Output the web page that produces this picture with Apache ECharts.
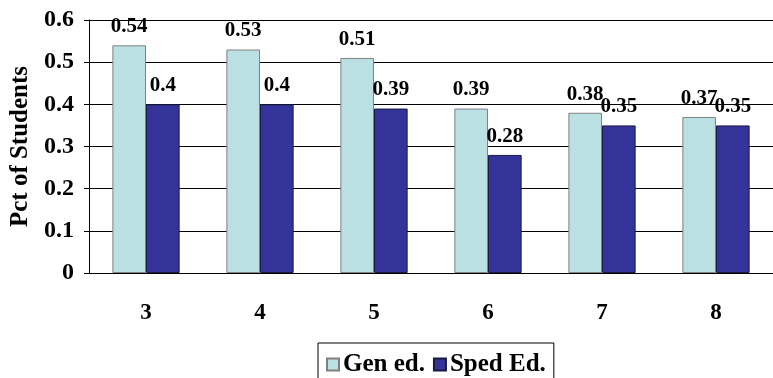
<!DOCTYPE html>
<html>
<head>
<meta charset="utf-8">
<script src="https://cdn.jsdelivr.net/npm/echarts@6/dist/echarts.min.js"></script>
<style>
  html, body { margin: 0; padding: 0; background: #fff; }
  #chart { width: 773px; height: 378px; }
</style>
</head>
<body>
<div id="chart"></div>
<script>
// grades on the x axis
const grades = ["3", "4", "5", "6", "7", "8"];
const genEd = [0.54, 0.53, 0.51, 0.39, 0.38, 0.37];
const spedEd = [0.4, 0.4, 0.39, 0.28, 0.35, 0.35];

const font = "Liberation Serif";

const chart = echarts.init(document.getElementById("chart"));
chart.setOption({
  animation: false,
  textStyle: { fontFamily: font },
  grid: {
    left: 88,
    right: -11,
    top: 20,
    bottom: 105,
  },
  legend: {
    left: 318,
    top: 343,
    itemWidth: 12,
    itemHeight: 12,
    itemGap: 8,
    padding: [9, 8, 20, 8],
    borderColor: "#000",
    borderWidth: 1,
    icon: "rect",
    textStyle: {
      fontFamily: font,
      fontSize: 25,
      fontWeight: "bold",
      color: "#000",
      padding: [0, 0, 0, -1],
    },
    data: ["Gen ed.", "Sped Ed."],
  },
  xAxis: {
    type: "category",
    data: grades,
    axisLine: { lineStyle: { color: "#000", width: 1 } },
    axisTick: { length: 8, lineStyle: { color: "#000" } },
    axisLabel: {
      margin: 29,
      fontSize: 23,
      fontWeight: "bold",
      color: "#000",
      fontFamily: font,
    },
  },
  yAxis: {
    type: "value",
    min: 0,
    max: 0.6,
    interval: 0.1,
    name: "Pct of Students",
    nameLocation: "middle",
    nameGap: 56,
    nameTextStyle: {
      fontSize: 25,
      fontWeight: "bold",
      color: "#000",
      fontFamily: font,
    },
    axisLine: { show: true, lineStyle: { color: "#000", width: 1 } },
    axisTick: { show: true, length: 5, lineStyle: { color: "#000" } },
    axisLabel: {
      margin: 15,
      fontSize: 24,
      fontWeight: "bold",
      color: "#000",
      fontFamily: font,
      formatter: (v) => (v === 0 ? "0" : v.toFixed(1)),
    },
    splitLine: { lineStyle: { color: "#000", width: 1 } },
  },
  series: [
    {
      name: "Gen ed.",
      type: "bar",
      data: genEd,
      barGap: "0%",
      barCategoryGap: "41%",
      itemStyle: { color: "#BAE0E3", borderColor: "#808080", borderWidth: 1 },
      label: {
        show: true,
        position: "top",
        distance: 8,
        fontSize: 21,
        fontWeight: "bold",
        color: "#000",
        fontFamily: font,
      },
    },
    {
      name: "Sped Ed.",
      type: "bar",
      data: spedEd,
      itemStyle: { color: "#333399", borderColor: "#1a1a40", borderWidth: 1 },
      label: {
        show: true,
        position: "top",
        distance: 8,
        fontSize: 21,
        fontWeight: "bold",
        color: "#000",
        fontFamily: font,
      },
    },
  ],
});
window.addEventListener("resize", function () {
  chart.resize();
});
</script>
</body>
</html>
